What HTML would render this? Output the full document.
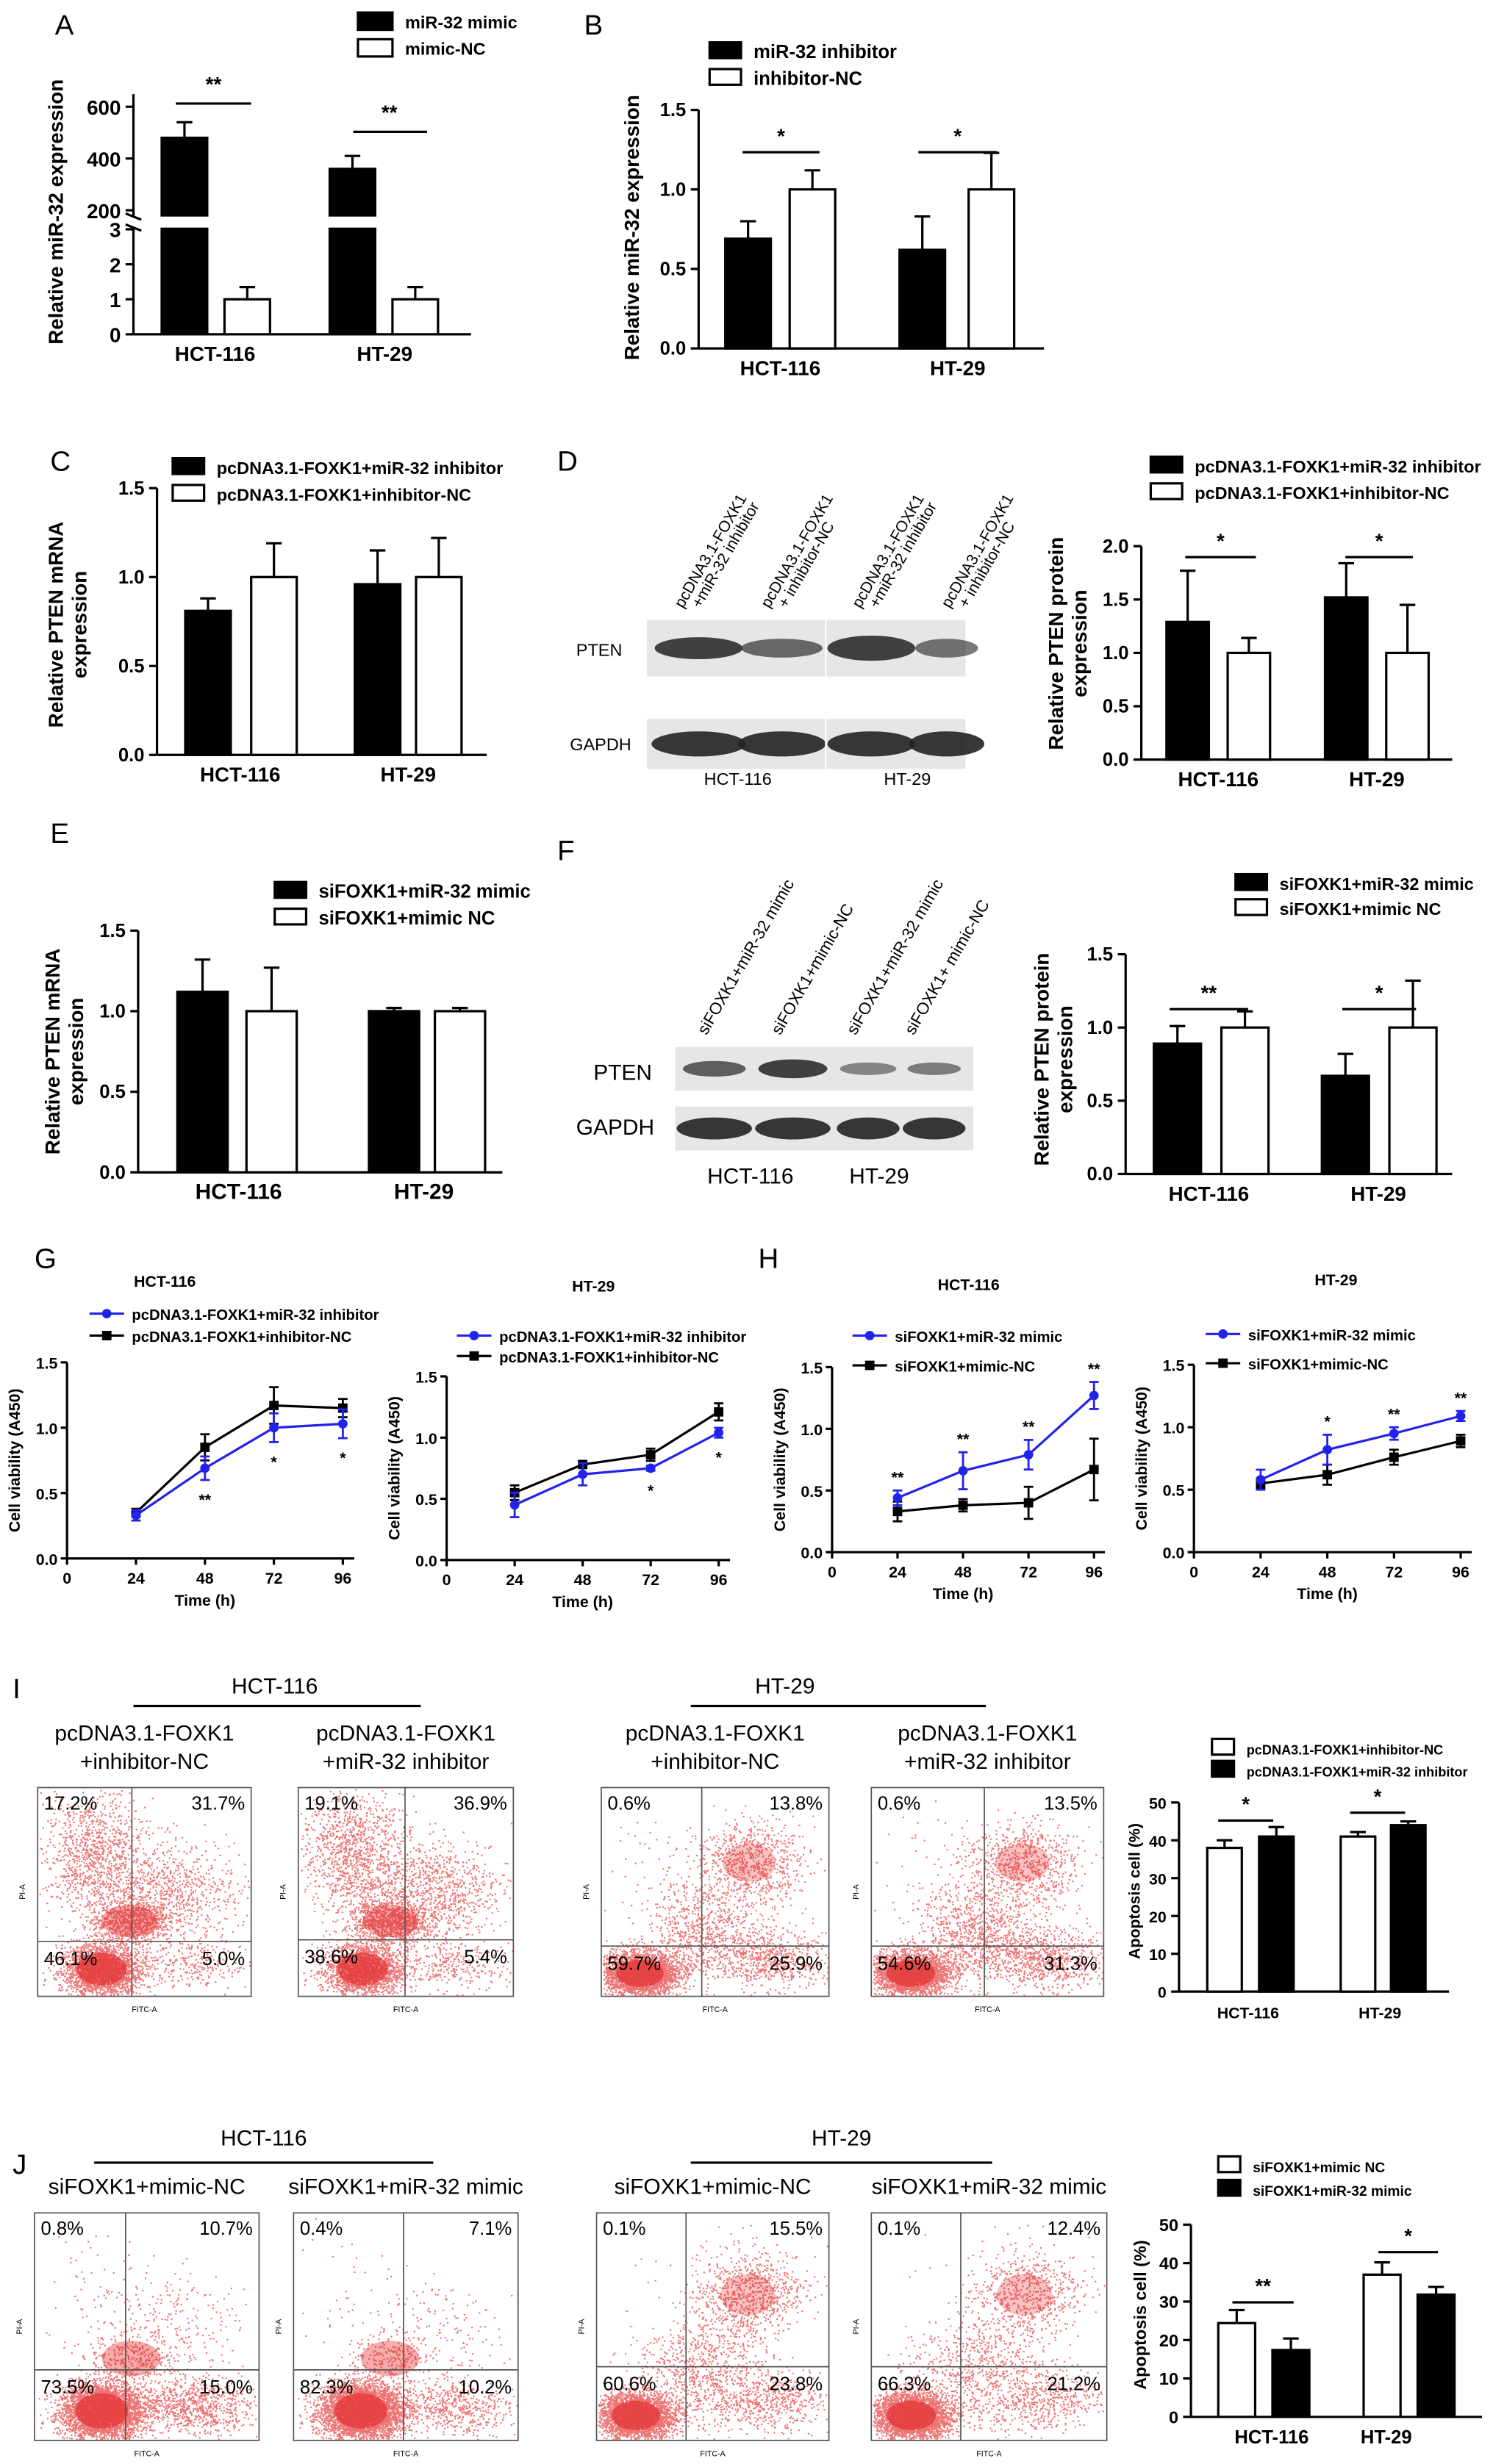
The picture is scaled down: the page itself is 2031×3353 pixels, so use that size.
<!DOCTYPE html>
<html><head><meta charset="utf-8"><style>
html,body{margin:0;padding:0;background:#fff}
svg{display:block}
text{font-family:"Liberation Sans",Arial,sans-serif;fill:#000}
</style></head><body>
<svg id="fig" xmlns="http://www.w3.org/2000/svg" width="2031" height="3353" viewBox="0 0 951 1570" preserveAspectRatio="none">
<rect width="951" height="1570" fill="#fff"/>
<g id="root"></g>
</svg>
<script>
// ---------- DATA ----------
const groups = ["HCT-116","HT-29"];
const aVals=[480,1.0,360,1.0], aErr=[60,0.35,50,0.35];
const bVals=[0.69,1.0,0.62,1.0], bErr=[0.11,0.12,0.21,0.23];
const cVals=[0.81,1.0,0.96,1.0], cErr=[0.07,0.19,0.19,0.22];
const dVals=[1.29,1.0,1.52,1.0], dErr=[0.48,0.14,0.32,0.45];
const eVals=[1.12,1.0,1.0,1.0], eErr=[0.2,0.27,0.02,0.02];
const fVals=[0.89,1.0,0.67,1.0], fErr=[0.12,0.11,0.15,0.32];
const iVals=[38,41,41,44], iErr=[2,2.5,1.2,1];
const jVals=[24.4,17.4,37,31.8], jErr=[3.4,3,3.2,2];
const times=[24,48,72,96];
const gLblue=[0.33,0.69,1.0,1.03], gLblueErr=[0.04,0.09,0.11,0.11];
const gLblack=[0.35,0.85,1.17,1.15], gLblackErr=[0.03,0.1,0.14,0.07];
const gRblue=[0.45,0.70,0.75,1.04], gRblueErr=[0.1,0.09,0.02,0.04];
const gRblack=[0.55,0.78,0.86,1.21], gRblackErr=[0.06,0.02,0.05,0.07];
const hLblue=[0.44,0.66,0.79,1.27], hLblueErr=[0.06,0.15,0.12,0.11];
const hLblack=[0.33,0.38,0.40,0.67], hLblackErr=[0.08,0.05,0.13,0.25];
const hRblue=[0.58,0.82,0.95,1.09], hRblueErr=[0.08,0.12,0.05,0.04];
const hRblack=[0.55,0.62,0.76,0.89], hRblackErr=[0.04,0.08,0.06,0.05];
const ticks15=["0.0","0.5","1.0","1.5"];
const flowI=[["17.2%","31.7%","46.1%","5.0%"],["19.1%","36.9%","38.6%","5.4%"],["0.6%","13.8%","59.7%","25.9%"],["0.6%","13.5%","54.6%","31.3%"]];
const flowJ=[["0.8%","10.7%","73.5%","15.0%"],["0.4%","7.1%","82.3%","10.2%"],["0.1%","15.5%","60.6%","23.8%"],["0.1%","12.4%","66.3%","21.2%"]];

const NS="http://www.w3.org/2000/svg";
const root=document.getElementById('root');
function el(tag,attrs,parent,txt){const e=document.createElementNS(NS,tag);for(const k in attrs)e.setAttribute(k,attrs[k]);if(txt!==undefined)e.textContent=txt;(parent||root).appendChild(e);return e;}
function T(x,y,s,size,opts){opts=opts||{};const t=el('text',{x:x,y:y,'font-size':size,'font-weight':opts.w||'bold','text-anchor':opts.a||'start'},opts.p,s);if(opts.rot)t.setAttribute('transform','rotate('+opts.rot+' '+x+' '+y+')');

return t;}
function L(x1,y1,x2,y2,p,w,c){return el('line',{x1:x1,y1:y1,x2:x2,y2:y2,stroke:c||'#000','stroke-width':w||1.5},p);}

function barChart(o){
 const g=el('g',{},root);
 
 
 const Y=v=>o.y0-(v-o.vmin)*o.unit;
 L(o.ax,o.y0,o.ax,Y(o.vmax),g);L(o.ax,o.y0,o.xend,o.y0,g);
 o.ticks.forEach(t=>{const y=Y(parseFloat(t));L(o.ax-5,y,o.ax,y,g);T(o.ax-8,y+4,t,o.tfs||12,{a:'end',p:g,n:'y-tick-label'});});
 o.vals.forEach((v,i)=>{const x=o.bx[i],w=o.bw;const fill=o.colors[i];
  const top=Y(v+o.errs[i]);
  L(x+w/2,Y(v),x+w/2,top,g);L(x+w/2-5,top,x+w/2+5,top,g);
  const r=el('rect',{x:x,y:Y(v),width:w,height:o.y0-Y(v),fill:fill,stroke:'#000','stroke-width':1.5},g);
  
  
 });
 groups.forEach((s,i)=>T(o.gx[i],o.y0+17,s,o.gfs||13,{a:'middle',p:g,n:'x-group-label'}));
 T(o.tx,o.ty,o.title,o.tfs2||13,{a:'middle',rot:-90,p:g,n:'y-axis-title'});
 if(o.title2)T(o.tx+15,o.ty,o.title2,o.tfs2||13,{a:'middle',rot:-90,p:g,n:'y-axis-title'});
 (o.sig||[]).forEach(s=>{L(s[0],s[2],s[1],s[2],g);T((s[0]+s[1])/2,s[2]-6,s[3],13,{a:'middle',p:g,n:'significance'});});
 (o.legend||[]).forEach((l,i)=>{const r=el('rect',{x:l[0],y:l[1]-8,width:o.lw||20,height:10,fill:l[3],stroke:'#000','stroke-width':1.5},g);
  
  T(l[0]+(o.lw||20)+8,l[1]+2,l[2],o.lfs||11,{p:g,n:'legend-entry'});});
 return g;
}
function panelLetter(s,x,y){T(x,y,s,18,{w:'normal',n:'panel-label-'+s.toLowerCase()});}

// ---- Panel A ----
panelLetter('A',35,22);
(function(){const g=el('g',{},root);
 const ax=85,y0=213;const YL=v=>y0-v*22.3;const YU=v=>134-(v-200)*0.165;
 L(ax,60,ax,138,g);L(ax,145,ax,y0,g);L(ax,y0,300,y0,g);
 [200,400,600].forEach(t=>{L(ax-5,YU(t),ax,YU(t),g);T(ax-8,YU(t)+5,''+t,13,{a:'end',p:g,n:'y-tick-label'});});
 [0,1,2,3].forEach(t=>{L(ax-5,YL(t),ax,YL(t),g);T(ax-8,YL(t)+5,''+t,13,{a:'end',p:g,n:'y-tick-label'});});
 L(ax-5,136,ax+5,140,g);L(ax-5,143,ax+5,147,g);
 const bx=[103,143,210,250],bw=29;
 aVals.forEach((v,i)=>{const big=v>3;const yv=big?YU(v):YL(v);const ye=big?YU(v+aErr[i]):YL(v+aErr[i]);
  L(bx[i]+bw/2,yv,bx[i]+bw/2,ye,g);L(bx[i]+bw/2-5,ye,bx[i]+bw/2+5,ye,g);
  const r=el('rect',{x:bx[i],y:yv,width:bw,height:y0-yv,fill:big?'#000':'#fff',stroke:'#000','stroke-width':1.5},g);
  
  if(big){el('rect',{x:bx[i]-1,y:138,width:bw+2,height:7,fill:'#fff'},g);}
 });
 T(137,230,'HCT-116',13,{a:'middle',p:g,n:'x-group-label'});T(245,230,'HT-29',13,{a:'middle',p:g,n:'x-group-label'});
 T(40,135,'Relative miR-32 expression',13,{a:'middle',rot:-90,p:g,n:'y-axis-title'});
 L(112,66,160,66,g);T(136,58,'**',13,{a:'middle',p:g});L(225,84,272,84,g);T(248,76,'**',13,{a:'middle',p:g});
 [[228,16,'miR-32 mimic','#000'],[228,33,'mimic-NC','#fff']].forEach(l=>{el('rect',{x:l[0],y:l[1]-8,width:22,height:11,fill:l[3],stroke:'#000','stroke-width':1.5},g);T(l[0]+30,l[1]+2,l[2],11,{p:g,n:'legend-entry'});});
})();

panelLetter('B',372,22);
barChart({name:'panel-b-chart',ax:445,y0:222,vmin:0,vmax:1.5,unit:101.3,xend:665,ticks:ticks15,vals:bVals,errs:bErr,bx:[462,503,573,617],bw:29,colors:['#000','#fff','#000','#fff'],gx:[497,610],tx:407,ty:145,title:'Relative miR-32 expression',sig:[[473,522,97,'*'],[585,635,97,'*']],legend:[[452,35,'miR-32 inhibitor','#000'],[452,52,'inhibitor-NC','#fff']],lfs:12});

panelLetter('C',32,300);
barChart({name:'panel-c-chart',ax:100,y0:481,vmin:0,vmax:1.5,unit:113.3,xend:310,ticks:ticks15,vals:cVals,errs:cErr,bx:[118,160,226,265],bw:29,colors:['#000','#fff','#000','#fff'],gx:[153,260],tx:40,ty:398,title:'Relative PTEN mRNA',title2:'expression',legend:[[110,300,'pcDNA3.1-FOXK1+miR-32 inhibitor','#000'],[110,317,'pcDNA3.1-FOXK1+inhibitor-NC','#fff']]});

panelLetter('D',355,300);
barChart({name:'panel-d-chart',ax:727,y0:484,vmin:0,vmax:2.0,unit:68,xend:925,ticks:["0.0","0.5","1.0","1.5","2.0"],vals:dVals,errs:dErr,bx:[743,782,844,883],bw:27,colors:['#000','#fff','#000','#fff'],gx:[776,877],tx:677,ty:410,title:'Relative PTEN protein',title2:'expression',sig:[[755,800,355,'*'],[857,900,355,'*']],legend:[[733,299,'pcDNA3.1-FOXK1+miR-32 inhibitor','#000'],[733,316,'pcDNA3.1-FOXK1+inhibitor-NC','#fff']]});

panelLetter('E',32,537);
barChart({name:'panel-e-chart',ax:88,y0:747,vmin:0,vmax:1.5,unit:102.7,xend:320,ticks:ticks15,vals:eVals,errs:eErr,bx:[113,157,235,277],bw:32,colors:['#000','#fff','#000','#fff'],gx:[152,270],tx:38,ty:670,title:'Relative PTEN mRNA',title2:'expression',gfs:14,legend:[[175,570,'siFOXK1+miR-32 mimic','#000'],[175,587,'siFOXK1+mimic NC','#fff']],lfs:12});

panelLetter('F',355,548);
barChart({name:'panel-f-chart',ax:717,y0:748,vmin:0,vmax:1.5,unit:93.3,xend:925,ticks:ticks15,vals:fVals,errs:fErr,bx:[735,778,842,885],bw:30,colors:['#000','#fff','#000','#fff'],gx:[770,878],tx:668,ty:675,title:'Relative PTEN protein',title2:'expression',sig:[[745,795,643,'**'],[855,902,643,'*']],legend:[[787,565,'siFOXK1+miR-32 mimic','#000'],[787,581,'siFOXK1+mimic NC','#fff']]});

// ---- Western blots ----
function blot(x,y,w,h,bands,name){const g=el('g',{},root);
 el('rect',{x:x,y:y,width:w,height:h,fill:'#e6e6e6'},g);
 bands.forEach(b=>{el('ellipse',{cx:b[0],cy:y+h/2,rx:b[1],ry:b[2],fill:'#222',opacity:b[3]},g);});return g;}
blot(412,395,203,36,[[445,28,7,0.85],[498,26,6,0.65],[555,28,8,0.85],[603,20,6,0.6]],'blot-d-pten');
blot(412,458,203,32,[[445,30,8,0.9],[498,28,8,0.9],[555,28,8,0.9],[603,24,8,0.9]],'blot-d-gapdh');
L(526,395,526,431,root,1,'#fff');L(526,458,526,490,root,1,'#fff');
T(367,418,'PTEN',11,{w:'normal',n:'blot-label'});T(363,478,'GAPDH',11,{w:'normal',n:'blot-label'});
T(470,500,'HCT-116',11,{a:'middle',w:'normal',n:'blot-cell-label'});T(578,500,'HT-29',11,{a:'middle',w:'normal',n:'blot-cell-label'});
[['pcDNA3.1-FOXK1','+miR-32 inhibitor',435],['pcDNA3.1-FOXK1','+ inhibitor-NC',490],['pcDNA3.1-FOXK1','+miR-32 inhibitor',548],['pcDNA3.1-FOXK1','+ inhibitor-NC',605]].forEach(l=>{T(l[2],388,l[0],10,{w:'normal',rot:-60,n:'lane-label'});T(l[2]+11,388,l[1],10,{w:'normal',rot:-60,n:'lane-label'});});
blot(430,667,100,28,[[455,20,5,0.7],[505,22,6,0.85]],'blot-f-pten');
blot(530,667,90,28,[[553,18,4,0.5],[595,17,4,0.55]],'blot-f-pten-ht');
blot(430,705,100,28,[[455,24,7,0.9],[505,24,7,0.9]],'blot-f-gapdh');
blot(530,705,90,28,[[553,20,7,0.9],[595,20,7,0.9]],'blot-f-gapdh-ht');
T(378,688,'PTEN',14,{w:'normal',n:'blot-label'});T(367,723,'GAPDH',14,{w:'normal',n:'blot-label'});
T(478,754,'HCT-116',14,{a:'middle',w:'normal',n:'blot-cell-label'});T(560,754,'HT-29',14,{a:'middle',w:'normal',n:'blot-cell-label'});
[['siFOXK1+miR-32 mimic',450],['siFOXK1+mimic-NC',497],['siFOXK1+miR-32 mimic',545],['siFOXK1+ mimic-NC',582]].forEach(l=>T(l[1],660,l[0],10.5,{w:'normal',rot:-60,n:'lane-label'}));

// ---- Line charts ----
function lineChart(o){
 const g=el('g',{},root);
 const X=t=>o.ax+t*o.xs, Y=v=>o.y0-v*o.unit;
 L(o.ax,o.y0,o.ax,Y(1.5),g);L(o.ax,o.y0,X(100),o.y0,g);
 ticks15.forEach(t=>{const y=Y(parseFloat(t));L(o.ax-4,y,o.ax,y,g);T(o.ax-6,y+4,t,10,{a:'end',p:g,n:'y-tick-label'});});
 [0,24,48,72,96].forEach(t=>{L(X(t),o.y0,X(t),o.y0+4,g);T(X(t),o.y0+16,''+t,10,{a:'middle',p:g,n:'x-tick-label'});});
 T(X(48),o.y0+30,'Time (h)',10,{a:'middle',p:g,n:'x-axis-title'});
 T(o.ax-30,Y(0.75),'Cell viability (A450)',10,{a:'middle',rot:-90,p:g,n:'y-axis-title'});
 T(o.titleX,o.titleY,o.title,10,{a:'middle',p:g,n:'chart-title'});
 [[o.black,'#000',o.blackErr],[o.blue,'#2222ee',o.blueErr]].forEach(s=>{
  const pts=s[0].map((v,i)=>X(times[i])+','+Y(v)).join(' ');
  const pl=el('polyline',{points:pts,fill:'none',stroke:s[1],'stroke-width':1.5},g);
  
  s[0].forEach((v,i)=>{const x=X(times[i]);const e=s[2][i];
   L(x,Y(v-e),x,Y(v+e),g,1.3,s[1]);L(x-3,Y(v+e),x+3,Y(v+e),g,1.3,s[1]);L(x-3,Y(v-e),x+3,Y(v-e),g,1.3,s[1]);
   const c=el(s[1]=='#000'?'rect':'circle',s[1]=='#000'?{x:x-3,y:Y(v)-3,width:6,height:6,fill:'#000'}:{cx:x,cy:Y(v),r:3,fill:s[1]},g);
   });
 });
 o.stars.forEach((s,i)=>{if(!s)return;
  const y=o.starBelow?Y(o.blue[i]-o.blueErr[i])+16:Y(Math.max(o.blue[i]+o.blueErr[i],o.black[i]+o.blackErr[i]))-5;
  T(X(times[i]),y,s,10,{a:'middle',p:g,n:'significance'});});
 o.legend.forEach((l,i)=>{const y=o.lx[1]+i*o.lgap;L(o.lx[0],y,o.lx[0]+22,y,g,1.5,l[1]);
  el(i==0?'circle':'rect',i==0?{cx:o.lx[0]+11,cy:y,r:3,fill:l[1]}:{x:o.lx[0]+8,y:y-3,width:6,height:6,fill:l[1]},g);
  T(o.lx[0]+27,y+4,l[0],9.5,{p:g,n:'legend-entry'});});
}
panelLetter('G',22,808);
lineChart({name:'panel-g-hct116',ax:42.7,y0:993,unit:83.3,xs:1.83,blue:gLblue,blueErr:gLblueErr,black:gLblack,blackErr:gLblackErr,title:'HCT-116',titleX:105,titleY:820,stars:['','**','*','*'],starBelow:true,lx:[57,837],lgap:14,legend:[['pcDNA3.1-FOXK1+miR-32 inhibitor','#2222ee'],['pcDNA3.1-FOXK1+inhibitor-NC','#000']]});
lineChart({name:'panel-g-ht29',ax:284.5,y0:994,unit:78,xs:1.805,blue:gRblue,blueErr:gRblueErr,black:gRblack,blackErr:gRblackErr,title:'HT-29',titleX:378,titleY:823,stars:['','','*','*'],starBelow:true,lx:[291,851],lgap:13,legend:[['pcDNA3.1-FOXK1+miR-32 inhibitor','#2222ee'],['pcDNA3.1-FOXK1+inhibitor-NC','#000']]});
panelLetter('H',483,808);
lineChart({name:'panel-h-hct116',ax:530,y0:989,unit:78.6,xs:1.738,blue:hLblue,blueErr:hLblueErr,black:hLblack,blackErr:hLblackErr,title:'HCT-116',titleX:617,titleY:822,stars:['**','**','**','**'],lx:[543,851],lgap:19,legend:[['siFOXK1+miR-32 mimic','#2222ee'],['siFOXK1+mimic-NC','#000']]});
lineChart({name:'panel-h-ht29',ax:760.5,y0:989,unit:79.6,xs:1.77,blue:hRblue,blueErr:hRblueErr,black:hRblack,blackErr:hRblackErr,title:'HT-29',titleX:851,titleY:819,stars:['','*','**','**'],lx:[768,850],lgap:18.6,legend:[['siFOXK1+miR-32 mimic','#2222ee'],['siFOXK1+mimic-NC','#000']]});

// ---- Flow cytometry plots (decorative scatter, seeded) ----
let seed=12345;function rnd(){seed=(seed*1103515245+12345)%2147483648;return seed/2147483648;}
function gauss(){let u=rnd()||1e-6,v=rnd();return Math.sqrt(-2*Math.log(u))*Math.cos(2*Math.PI*v);}
function flow(x,y,w,h,vx,hy,labs,title1,title2,name,ht){
 const g=el('g',{},root);
 if(title2){T(x+w/2,y-30,title1,14,{a:'middle',w:'normal',p:g,n:'sample-title'});T(x+w/2,y-12,title2,14,{a:'middle',w:'normal',p:g,n:'sample-title'});}
 else T(x+w/2,y-12,title1,14,{a:'middle',w:'normal',p:g,n:'sample-title'});
 el('rect',{x:x,y:y,width:w,height:h,fill:'#fff',stroke:'#555','stroke-width':0.8},g);
 const p=labs.map(s=>parseFloat(s)/100);const N=5500;
 const cl=ht?[
  [0.22,0.3,0.12,0.15,p[0]],
  [0.65,0.36,0.12,0.1,p[1]],
  [0.17,0.89,0.08,0.05,p[2]],
  [0.45,0.7,0.14,0.12,p[3]*0.6],[0.75,0.82,0.12,0.07,p[3]*0.4]
 ]:[
  [0.25,0.3,0.12,0.15,p[0]],
  [0.58,0.5,0.18,0.13,p[1]*0.55],[0.43,0.64,0.09,0.05,p[1]*0.45],
  [0.3,0.87,0.09,0.06,p[2]],
  [0.7,0.85,0.14,0.06,p[3]]
 ];
 // dense cores
 const cores=ht?[[0.17,0.89,0.08,0.05,0.5],[0.65,0.36,0.09,0.07,0.25]]:[[0.3,0.87,0.09,0.06,0.5],[0.43,0.64,0.1,0.06,0.35]];
 cores.forEach(c=>{const e=el('ellipse',{cx:x+w*c[0],cy:y+h*c[1],rx:w*c[2]*1.3,ry:h*c[3]*1.3,fill:'#e01010',opacity:c[4]},g);});
 const d=[];
 cl.forEach(c=>{const n=Math.round(c[4]*N);for(let i=0;i<n;i++){const px=x+w*(c[0]+gauss()*c[2]),py=y+h*(c[1]+gauss()*c[3]);
  if(px>x+1&&px<x+w-1&&py>y+1&&py<y+h-1)d.push('M'+px.toFixed(1)+' '+py.toFixed(1)+'h1v1h-1z');}});
 const path=el('path',{d:d.join(''),fill:'#e01818','fill-opacity':0.6},g);
 
 L(vx,y,vx,y+h,g,0.8,'#555');L(x,hy,x+w,hy,g,0.8,'#555');
 T(x+4,y+14,labs[0],12,{w:'normal',p:g,n:'quadrant-percent'});T(x+w-4,y+14,labs[1],12,{w:'normal',a:'end',p:g,n:'quadrant-percent'});
 T(x+4,hy+15,labs[2],12,{w:'normal',p:g,n:'quadrant-percent'});T(x+w-4,hy+15,labs[3],12,{w:'normal',a:'end',p:g,n:'quadrant-percent'});
 T(x+w/2,y+h+10,'FITC-A',5,{w:'normal',a:'middle',p:g,n:'x-axis-title'});T(x-8,y+h/2,'PI-A',5,{w:'normal',a:'middle',rot:-90,p:g,n:'y-axis-title'});
}
panelLetter('I',8,1082);
T(175,1079,'HCT-116',14,{a:'middle',w:'normal',n:'group-header'});L(85,1087,268,1087);
T(500,1079,'HT-29',14,{a:'middle',w:'normal',n:'group-header'});L(440,1087,628,1087);
const fI=[[24,136,84,1237],[190,137,258,1236],[383,145,447,1240],[555,148,627,1240]];
const tI=[['pcDNA3.1-FOXK1','+inhibitor-NC'],['pcDNA3.1-FOXK1','+miR-32 inhibitor'],['pcDNA3.1-FOXK1','+inhibitor-NC'],['pcDNA3.1-FOXK1','+miR-32 inhibitor']];
fI.forEach((f,i)=>flow(f[0],1139,f[1],133,f[2],f[3],flowI[i],tI[i][0],tI[i][1],'flow-plot-i-'+(i+1),i>=2));
panelLetter('J',8,1385);
T(168,1367,'HCT-116',14,{a:'middle',w:'normal',n:'group-header'});L(60,1378,276,1378);
T(536,1367,'HT-29',14,{a:'middle',w:'normal',n:'group-header'});L(440,1378,632,1378);
const fJ=[[22,143,80,1510],[187,143,257,1510],[380,148,437,1508],[555,150,612,1508]];
const tJ=['siFOXK1+mimic-NC','siFOXK1+miR-32 mimic','siFOXK1+mimic-NC','siFOXK1+miR-32 mimic'];
fJ.forEach((f,i)=>flow(f[0],1410,f[1],145,f[2],f[3],flowJ[i],tJ[i],null,'flow-plot-j-'+(i+1),i>=2));

barChart({name:'panel-i-chart',ax:751,y0:1269,vmin:0,vmax:50,unit:2.41,xend:923,ticks:["0","10","20","30","40","50"],tfs:10,vals:iVals,errs:iErr,bx:[769,802,854,886],bw:22,colors:['#fff','#000','#fff','#000'],gx:[795,879],gfs:10,tx:726,ty:1205,title:'Apoptosis cell (%)',tfs2:10,sig:[[776,811,1160,'*'],[860,895,1155,'*']],legend:[[772,1116,'pcDNA3.1-FOXK1+inhibitor-NC','#fff'],[772,1130,'pcDNA3.1-FOXK1+miR-32 inhibitor','#000']],lw:14,lfs:8.5});
barChart({name:'panel-j-chart',ax:758.6,y0:1540,vmin:0,vmax:50,unit:2.45,xend:944,ticks:["0","10","20","30","40","50"],tfs:11,vals:jVals,errs:jErr,bx:[776,810.5,868.6,903],bw:23.5,colors:['#fff','#000','#fff','#000'],gx:[810,883],gfs:12,tx:730,ty:1475,title:'Apoptosis cell (%)',tfs2:11,sig:[[785,824,1467,'**'],[878,916,1435,'*']],legend:[[776,1382,'siFOXK1+mimic NC','#fff'],[776,1397,'siFOXK1+miR-32 mimic','#000']],lw:14,lfs:9});
</script>
</body></html>
